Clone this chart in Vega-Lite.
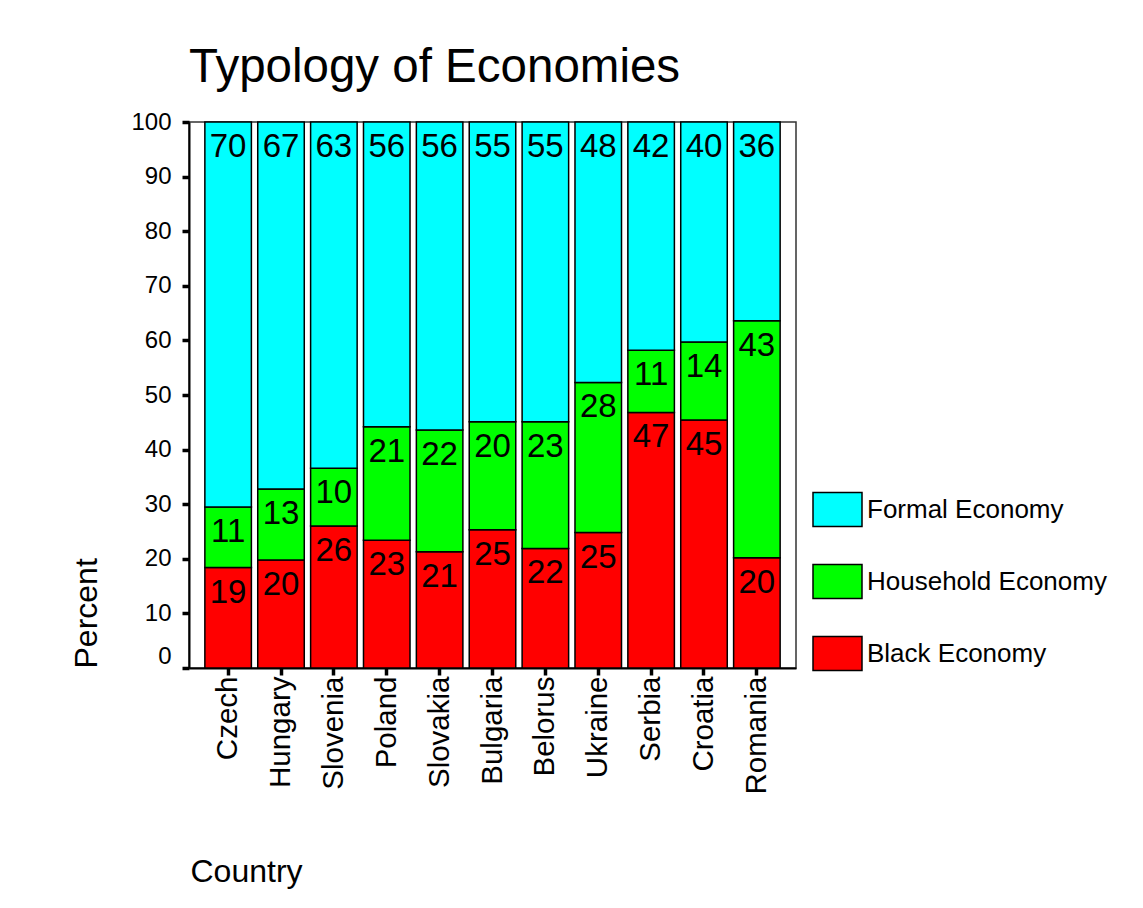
{
  "$schema": "https://vega.github.io/schema/vega-lite/v6.json",
  "width": 607,
  "height": 546,
  "autosize": {"type": "none"},
  "padding": {"left": 189, "top": 122, "right": 347, "bottom": 240},
  "background": "white",
  "config": {
    "font": "Liberation Sans",
    "view": {"stroke": "#333333", "strokeWidth": 1.5}
  },
  "title": {
    "text": "Typology of Economies",
    "anchor": "start",
    "frame": "group",
    "fontSize": 47.5,
    "font": "Liberation Sans",
    "fontWeight": "normal",
    "color": "black",
    "baseline": "alphabetic",
    "offset": -19
  },
  "data": {
    "values": [
      {"country": "Czech", "economy": "Black Economy", "order": 1, "value": 18.4, "label": "19"},
      {"country": "Czech", "economy": "Household Economy", "order": 2, "value": 11.1, "label": "11"},
      {"country": "Czech", "economy": "Formal Economy", "order": 3, "value": 70.5, "label": "70"},
      {"country": "Hungary", "economy": "Black Economy", "order": 1, "value": 19.8, "label": "20"},
      {"country": "Hungary", "economy": "Household Economy", "order": 2, "value": 13.0, "label": "13"},
      {"country": "Hungary", "economy": "Formal Economy", "order": 3, "value": 67.2, "label": "67"},
      {"country": "Slovenia", "economy": "Black Economy", "order": 1, "value": 26.0, "label": "26"},
      {"country": "Slovenia", "economy": "Household Economy", "order": 2, "value": 10.6, "label": "10"},
      {"country": "Slovenia", "economy": "Formal Economy", "order": 3, "value": 63.4, "label": "63"},
      {"country": "Poland", "economy": "Black Economy", "order": 1, "value": 23.4, "label": "23"},
      {"country": "Poland", "economy": "Household Economy", "order": 2, "value": 20.8, "label": "21"},
      {"country": "Poland", "economy": "Formal Economy", "order": 3, "value": 55.8, "label": "56"},
      {"country": "Slovakia", "economy": "Black Economy", "order": 1, "value": 21.3, "label": "21"},
      {"country": "Slovakia", "economy": "Household Economy", "order": 2, "value": 22.3, "label": "22"},
      {"country": "Slovakia", "economy": "Formal Economy", "order": 3, "value": 56.4, "label": "56"},
      {"country": "Bulgaria", "economy": "Black Economy", "order": 1, "value": 25.3, "label": "25"},
      {"country": "Bulgaria", "economy": "Household Economy", "order": 2, "value": 19.8, "label": "20"},
      {"country": "Bulgaria", "economy": "Formal Economy", "order": 3, "value": 54.9, "label": "55"},
      {"country": "Belorus", "economy": "Black Economy", "order": 1, "value": 21.9, "label": "22"},
      {"country": "Belorus", "economy": "Household Economy", "order": 2, "value": 23.2, "label": "23"},
      {"country": "Belorus", "economy": "Formal Economy", "order": 3, "value": 54.9, "label": "55"},
      {"country": "Ukraine", "economy": "Black Economy", "order": 1, "value": 24.8, "label": "25"},
      {"country": "Ukraine", "economy": "Household Economy", "order": 2, "value": 27.5, "label": "28"},
      {"country": "Ukraine", "economy": "Formal Economy", "order": 3, "value": 47.7, "label": "48"},
      {"country": "Serbia", "economy": "Black Economy", "order": 1, "value": 46.8, "label": "47"},
      {"country": "Serbia", "economy": "Household Economy", "order": 2, "value": 11.4, "label": "11"},
      {"country": "Serbia", "economy": "Formal Economy", "order": 3, "value": 41.8, "label": "42"},
      {"country": "Croatia", "economy": "Black Economy", "order": 1, "value": 45.4, "label": "45"},
      {"country": "Croatia", "economy": "Household Economy", "order": 2, "value": 14.3, "label": "14"},
      {"country": "Croatia", "economy": "Formal Economy", "order": 3, "value": 40.3, "label": "40"},
      {"country": "Romania", "economy": "Black Economy", "order": 1, "value": 20.2, "label": "20"},
      {"country": "Romania", "economy": "Household Economy", "order": 2, "value": 43.4, "label": "43"},
      {"country": "Romania", "economy": "Formal Economy", "order": 3, "value": 36.4, "label": "36"}
    ]
  },
  "encoding": {
    "x": {
      "field": "country",
      "type": "nominal",
      "sort": null,
      "scale": {"paddingInner": 0.12, "paddingOuter": 0.3},
      "axis": {
        "title": "Country",
        "labelAngle": -90,
        "labelAlign": "right",
        "labelBaseline": "middle",
        "labelPadding": 1,
        "labelFontSize": 29.5,
        "labelColor": "black",
        "labelFont": "Liberation Sans",
        "tickSize": 7,
        "tickWidth": 3.5,
        "tickColor": "black",
        "domainColor": "black",
        "domainWidth": 2,
        "titleFontSize": 32,
        "titleFontWeight": "normal",
        "titleFont": "Liberation Sans",
        "titleColor": "black",
        "titleAngle": 0,
        "titleX": 1,
        "titleY": 213,
        "titleAlign": "left",
        "titleBaseline": "alphabetic"
      }
    },
    "y": {
      "field": "value",
      "type": "quantitative",
      "stack": "zero",
      "scale": {"domain": [0, 100], "nice": false},
      "axis": {
        "title": "Percent",
        "values": [0, 10, 20, 30, 40, 50, 60, 70, 80, 90, 100],
        "grid": false,
        "labelFontSize": 24,
        "labelPadding": 11,
        "labelColor": "black",
        "labelFont": "Liberation Sans",
        "labelOffset": {"condition": {"test": "datum.value === 0", "value": -12}, "value": 0},
        "tickSize": 7,
        "tickWidth": 3.5,
        "tickColor": "black",
        "domainColor": "black",
        "domainWidth": 2,
        "titleFontSize": 32,
        "titleFontWeight": "normal",
        "titleFont": "Liberation Sans",
        "titleColor": "black",
        "titleAngle": -90,
        "titleX": -93,
        "titleY": 546,
        "titleAlign": "left",
        "titleBaseline": "alphabetic"
      }
    },
    "order": {"field": "order", "type": "quantitative"}
  },
  "layer": [
    {
      "mark": {"type": "bar", "stroke": "black", "strokeWidth": 1.5},
      "encoding": {
        "color": {
          "field": "economy",
          "type": "nominal",
          "scale": {
            "domain": ["Formal Economy", "Household Economy", "Black Economy"],
            "range": ["#00FFFF", "#00FF00", "#FF0000"]
          },
          "legend": {
            "title": null,
            "orient": "none",
            "legendX": 623,
            "legendY": 362,
            "padding": 0,
            "symbolType": "M-1,-0.69H1V0.69H-1Z",
            "symbolSize": 2401,
            "symbolStrokeColor": "black",
            "symbolStrokeWidth": 1.5,
            "symbolOpacity": 1,
            "labelFontSize": 26,
            "labelFont": "Liberation Sans",
            "labelColor": "black",
            "labelOffset": 4,
            "rowPadding": 26,
            "labelLimit": 400
          }
        }
      }
    },
    {
      "mark": {"type": "text", "baseline": "alphabetic", "dy": 35, "fontSize": 33, "font": "Liberation Sans", "color": "black"},
      "encoding": {
        "text": {"field": "label"},
        "detail": {"field": "economy"}
      }
    }
  ]
}
